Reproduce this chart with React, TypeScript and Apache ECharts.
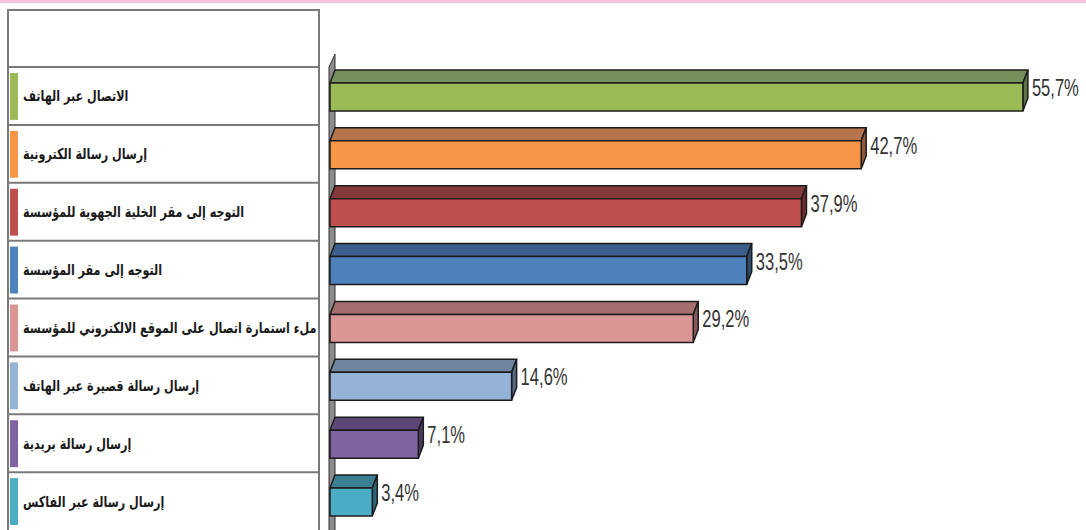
import React, { useEffect, useRef } from "react";
import * as echarts from "echarts";

const categories = [
  "الاتصال عبر الهاتف",
  "إرسال رسالة الكترونية",
  "التوجه إلى مقر الخلية الجهوية للمؤسسة",
  "التوجه إلى مقر المؤسسة",
  "ملء استمارة اتصال على الموقع الالكتروني للمؤسسة",
  "إرسال رسالة قصيرة عبر الهاتف",
  "إرسال رسالة بريدية",
  "إرسال رسالة عبر الفاكس",
];
const values = [55.7, 42.7, 37.9, 33.5, 29.2, 14.6, 7.1, 3.4];
const frontColors = ["#9BBB59", "#F79646", "#C0504D", "#4F81BD", "#D99694", "#95B3D7", "#8064A2", "#4BACC6"];
const topColors = ["#76905A", "#B5744C", "#84393A", "#3B5E8B", "#A56F70", "#6E84A1", "#5C4878", "#3A7F92"];
const sideColors = ["#5E7446", "#8F5A3A", "#6A2E2E", "#2F4B70", "#855758", "#576A82", "#4A3A60", "#2E6574"];

export default function App() {
  const ref = useRef<HTMLDivElement>(null);
  useEffect(() => {
    const chart = echarts.init(ref.current!, null, { renderer: "svg" });
    const DX = 5;
    const DY = 13;
    const H = 28;
    const border = "#1c1c1c";
    const data = values.map((v, i) => [v, i]);
    chart.setOption({
      animation: false,
      backgroundColor: "#ffffff",
      grid: { left: 330, right: 9.6, top: 67, height: 464 },
      xAxis: { type: "value", min: 0, max: 60, show: false },
      yAxis: {
        type: "category",
        data: categories,
        inverse: true,
        show: false,
      },
      graphic: [
        { type: "rect", shape: { x: 0, y: 0, width: 1086, height: 3 }, style: { fill: "#F6C3E2" }, silent: true },
        {
          type: "rect",
          shape: { x: 8, y: 10, width: 311, height: 540 },
          style: { fill: "none", stroke: "#7a7a7a", lineWidth: 2 },
          silent: true,
          z: 10,
        },
        {
          type: "polygon",
          shape: { points: [[329, 67], [335, 54], [335, 540], [329, 540]] },
          style: { fill: "#8c8c8c", stroke: "#333", lineWidth: 1 },
          silent: true,
          z: 1,
        },
      ],
      series: [
        {
          type: "custom",
          data,
          encode: { x: 0, y: 1 },
          z: 5,
          renderItem: (params: any, api: any) => {
            const v = api.value(0);
            const idx = api.value(1);
            const p0 = api.coord([0, idx]);
            const p1 = api.coord([v, idx]);
            const band = api.size([0, 1])[1];
            const x0 = p0[0];
            const x1 = p1[0];
            const cy = p0[1];
            const top = cy - H / 2 + 1;
            const bandTop = cy - band / 2;
            const i = params.dataIndex;
            return {
              type: "group",
              children: [
                {
                  type: "line",
                  shape: { x1: 8, y1: bandTop, x2: 319, y2: bandTop },
                  style: { stroke: "#7a7a7a", lineWidth: 2 },
                },
                {
                  type: "rect",
                  shape: { x: 10, y: bandTop + 6, width: 8, height: band - 11 },
                  style: { fill: frontColors[i] },
                },
                {
                  type: "text",
                  x: 23,
                  y: cy,
                  scaleX: 0.83,
                  style: {
                    text: categories[i],
                    x: 0,
                    y: 0,
                    fill: "#1a1a1a",
                    font: "bold 15px 'DejaVu Sans Condensed', 'DejaVu Sans', sans-serif",
                    textAlign: "left",
                    textVerticalAlign: "middle",
                  },
                },
                {
                  type: "polygon",
                  shape: { points: [[x0, top], [x0 + DX, top - DY], [x1 + DX, top - DY], [x1, top]] },
                  style: { fill: topColors[i], stroke: border, lineWidth: 1.5 },
                },
                {
                  type: "polygon",
                  shape: { points: [[x1, top], [x1 + DX, top - DY], [x1 + DX, top + H - DY], [x1, top + H]] },
                  style: { fill: sideColors[i], stroke: border, lineWidth: 1.5 },
                },
                {
                  type: "rect",
                  shape: { x: x0, y: top, width: x1 - x0, height: H },
                  style: { fill: frontColors[i], stroke: border, lineWidth: 1.5 },
                },
                {
                  type: "text",
                  x: x1 + DX + 4,
                  y: top + 5,
                  scaleX: 0.72,
                  style: {
                    text: String(v).replace(".", ",") + "%",
                    x: 0,
                    y: 0,
                    fill: "#333333",
                    font: "23px 'Liberation Sans', Arial, sans-serif",
                    textAlign: "left",
                    textVerticalAlign: "middle",
                  },
                },
              ],
            };
          },
        },
      ],
    });
    return () => chart.dispose();
  }, []);
  return (
    <div
      ref={ref}
      style={{ position: "fixed", left: 0, top: 0, width: 1086, height: 530 }}
    />
  );
}
